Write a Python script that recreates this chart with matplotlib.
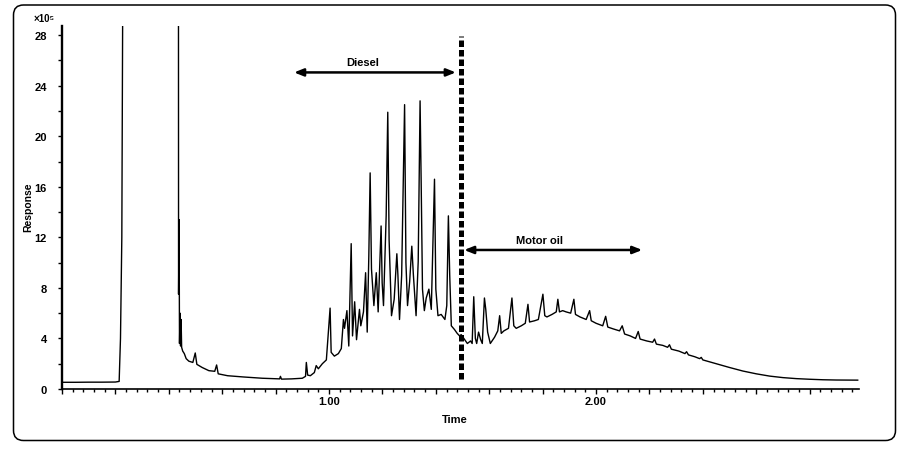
import matplotlib
matplotlib.use("Agg")
from matplotlib import pyplot as plt
from matplotlib.patches import FancyBboxPatch
from matplotlib.ticker import MultipleLocator, FuncFormatter

plt.rcParams['font.family'] = ['Liberation Sans', 'DejaVu Sans']

# chromatogram trace (time in min, response in 1e5 counts)
time_early = [0.0, 0.05, 0.10, 0.15, 0.20, 0.214, 0.219, 0.224, 0.229, 0.30, 0.40, 0.436,
              0.4365, 0.4385, 0.440, 0.442, 0.444, 0.446, 0.448, 0.452, 0.458, 0.465, 0.475,
              0.490, 0.499, 0.505, 0.525, 0.550, 0.572, 0.579, 0.585, 0.62, 0.68, 0.75,
              0.815, 0.818, 0.822, 0.86]
resp_early = [0.53, 0.53, 0.54, 0.54, 0.55, 0.6, 4.0, 12.0, 40, 40, 40, 40,
              7.5, 13.4, 3.6, 6.0, 3.4, 5.5, 3.3, 3.0, 2.8, 2.4, 2.2,
              2.1, 2.85, 1.95, 1.7, 1.45, 1.4, 1.9, 1.2, 1.05, 0.95, 0.85,
              0.8, 1.0, 0.78, 0.8]

time_diesel = [0.90, 0.912, 0.915, 0.92, 0.93, 0.945, 0.952, 0.96, 0.975, 0.99, 1.004, 1.008,
               1.020, 1.035, 1.046, 1.054, 1.058, 1.067, 1.074, 1.083, 1.088, 1.096, 1.103, 1.114,
               1.119, 1.129, 1.137, 1.143, 1.149, 1.154, 1.159, 1.168, 1.177, 1.184, 1.195, 1.199,
               1.204, 1.214, 1.220, 1.225, 1.234, 1.244, 1.254, 1.258, 1.264, 1.272, 1.283, 1.288,
               1.294, 1.302, 1.310, 1.316, 1.326, 1.334, 1.341, 1.345, 1.350, 1.357, 1.364, 1.374,
               1.383, 1.395, 1.400, 1.408, 1.420, 1.434, 1.441, 1.447, 1.452, 1.458, 1.470, 1.480,
               1.489]
resp_diesel = [0.85, 1.0, 2.1, 1.1, 1.05, 1.3, 1.85, 1.6, 2.0, 2.3, 6.4, 2.9,
               2.6, 2.8, 3.2, 5.5, 4.8, 6.2, 3.4, 11.5, 4.2, 6.9, 3.9, 6.3,
               5.0, 6.1, 9.2, 4.5, 10.5, 17.1, 9.5, 6.6, 9.2, 6.1, 12.9, 8.4,
               6.6, 13.7, 21.9, 11.8, 5.8, 7.1, 10.7, 9.0, 5.5, 9.0, 22.5, 10.0,
               6.6, 8.5, 11.3, 9.0, 5.8, 10.1, 22.8, 16.5, 7.9, 6.2, 7.2, 7.9,
               6.3, 16.6, 7.9, 5.8, 5.9, 5.5, 6.6, 13.7, 9.0, 5.0, 4.7, 4.4,
               4.2]

time_oil = [1.495, 1.505, 1.518, 1.530, 1.536, 1.542, 1.548, 1.553, 1.560, 1.568, 1.574, 1.582,
            1.587, 1.594, 1.604, 1.620, 1.632, 1.639, 1.645, 1.655, 1.672, 1.685, 1.692, 1.701,
            1.720, 1.735, 1.745, 1.751, 1.770, 1.784, 1.801, 1.808, 1.816, 1.835, 1.851, 1.857,
            1.863, 1.875, 1.888, 1.905, 1.917, 1.923, 1.940, 1.963, 1.976, 1.982, 2.000, 2.025,
            2.036, 2.044, 2.065, 2.088, 2.098, 2.107, 2.128, 2.148, 2.158, 2.165, 2.19, 2.212,
            2.219, 2.226, 2.250, 2.268, 2.275, 2.282, 2.31, 2.333, 2.339, 2.346, 2.370, 2.388,
            2.394, 2.40, 2.45, 2.50, 2.55, 2.60, 2.65, 2.70, 2.75, 2.80, 2.85, 2.90, 2.95, 2.98]
resp_oil = [4.3, 4.0, 3.6, 3.8, 3.6, 7.3, 4.0, 3.6, 4.5, 3.9, 3.6, 7.2,
            6.3, 4.5, 3.6, 4.1, 4.6, 5.8, 4.4, 4.6, 4.8, 7.2, 5.0, 4.8,
            5.0, 5.2, 6.7, 5.3, 5.4, 5.5, 7.5, 5.8, 5.7, 5.9, 6.1, 7.1,
            6.1, 6.2, 6.1, 6.0, 7.1, 5.9, 5.7, 5.5, 6.2, 5.4, 5.2, 5.0,
            5.75, 4.9, 4.75, 4.6, 5.0, 4.35, 4.2, 4.0, 4.55, 3.95, 3.8, 3.7,
            3.95, 3.55, 3.45, 3.3, 3.5, 3.15, 3.0, 2.8, 2.95, 2.7, 2.55, 2.4,
            2.5, 2.3, 2.0, 1.7, 1.42, 1.2, 1.02, 0.9, 0.82, 0.77, 0.73, 0.71, 0.7, 0.7]

split_time = 1.493
diesel_range = (0.869, 1.475)
oil_range = (1.506, 2.173)

time = time_early + time_diesel + time_oil
resp = resp_early + resp_diesel + resp_oil

fig = plt.figure(figsize=(9, 4.52), dpi=100)
ax = fig.add_axes([0.0689, 0.1372, 0.8859, 0.8024])

ax.plot(time, resp, color="black", lw=1.0)

# boundary between diesel and motor oil ranges
ax.plot([split_time, split_time], [0.8, 27.9], color="black", lw=3.6,
        dashes=(1.3, 0.6), solid_capstyle="butt", dash_capstyle="butt")

arrow_style = "<|-|>,head_length=0.55,head_width=0.22"
ax.annotate("", xy=(diesel_range[0], 25.05), xytext=(diesel_range[1], 25.05),
            arrowprops=dict(arrowstyle=arrow_style, color="black", lw=1.8, shrinkA=0, shrinkB=0))
ax.text(1.127, 25.45, "Diesel", ha="center", va="bottom", fontsize=8, fontweight="bold")
ax.annotate("", xy=(oil_range[0], 11.0), xytext=(oil_range[1], 11.0),
            arrowprops=dict(arrowstyle=arrow_style, color="black", lw=1.8, shrinkA=0, shrinkB=0))
ax.text(1.79, 11.4, "Motor oil", ha="center", va="bottom", fontsize=8, fontweight="bold")

ax.set_xlim(0, 2.986)
ax.set_ylim(0, 28.7)

for side in ["top", "right"]:
    ax.spines[side].set_visible(False)
ax.spines["left"].set_linewidth(1.7)
ax.spines["bottom"].set_linewidth(1.2)

ax.xaxis.set_major_locator(MultipleLocator(0.2))
ax.xaxis.set_minor_locator(MultipleLocator(0.04))
ax.xaxis.set_major_formatter(FuncFormatter(lambda v, p: f"{v:.2f}" if abs(v - round(v)) < 1e-6 and v > 0 else ""))
ax.yaxis.set_major_locator(MultipleLocator(4))
ax.yaxis.set_minor_locator(MultipleLocator(2))

ax.tick_params(axis="x", which="major", length=3.6, width=1.0, pad=1.5, labelsize=8)
ax.tick_params(axis="x", which="minor", length=2.0, width=1.0)
ax.tick_params(axis="y", which="major", length=3.0, width=1.0, pad=8, labelsize=8)
ax.tick_params(axis="y", which="minor", length=3.0, width=1.0)
for lbl in ax.get_xticklabels() + ax.get_yticklabels():
    lbl.set_fontweight("bold")

fig.text(455 / 900, 1 - 420 / 452, "Time", ha="center", va="center", fontsize=8, fontweight="bold")
fig.text(28 / 900, 1 - 207.5 / 452, "Response", ha="center", va="center", rotation=90,
         fontsize=7.5, fontweight="bold")
fig.text(44 / 900, 1 - 19 / 452, "×10⁵", ha="center", va="center", fontsize=7, fontweight="bold")

# rounded frame around the whole figure
frame = FancyBboxPatch((0.135, 0.105), 8.82, 4.355, boxstyle="round,pad=0,rounding_size=0.1",
                       transform=fig.dpi_scale_trans, fill=False, edgecolor="black", lw=1.1)
fig.patches.append(frame)

fig.savefig("out.png", dpi=100)
